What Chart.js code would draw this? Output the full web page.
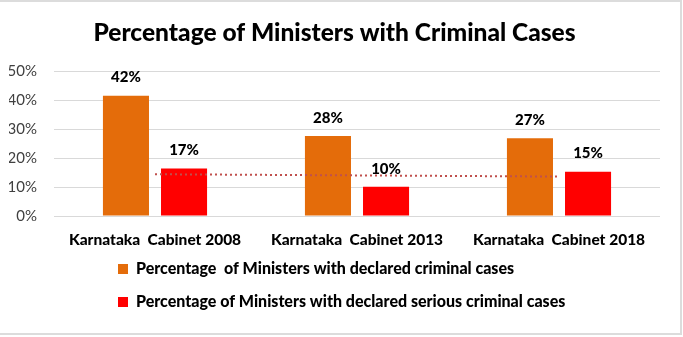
<!DOCTYPE html>
<html>
<head>
<meta charset="utf-8">
<script src="https://cdn.jsdelivr.net/npm/chart.js@4.4.1/dist/chart.umd.min.js"></script>
<style>
  html, body { margin: 0; padding: 0; background: #fff; }
  #wrap { position: relative; width: 683px; height: 337px; }
</style>
</head>
<body>
<div id="wrap"><canvas id="c" width="683" height="337"></canvas></div>
<script>
const categories = ["Karnataka  Cabinet 2008", "Karnataka  Cabinet 2013", "Karnataka  Cabinet 2018"];
const criminalCases = [41.5, 27.6, 26.8];
const seriousCases = [16.4, 10.1, 15.3];
const criminalLabels = ["42%", "28%", "27%"];
const seriousLabels = ["17%", "10%", "15%"];
const trendSerious = [14.4, 14.0, 13.6];
const seriesNames = ["Percentage  of Ministers with declared criminal cases", "Percentage of Ministers with declared serious criminal cases"];
const yTicks = [0, 10, 20, 30, 40, 50];

const FONT = "Lato, 'Open Sans', sans-serif";
const BOLD = '900';

const frame = {
  id: 'frame',
  beforeDraw(chart) {
    const ctx = chart.ctx;
    ctx.save();
    ctx.fillStyle = '#fff';
    ctx.fillRect(0, 0, chart.width, chart.height);
    ctx.strokeStyle = '#dcdcdc';
    ctx.lineWidth = 2;
    ctx.beginPath();
    ctx.moveTo(0, 1); ctx.lineTo(681, 1); ctx.lineTo(681, 334); ctx.lineTo(0, 334);
    ctx.stroke();
    ctx.restore();
  }
};

const legendShift = {
  id: 'legendShift',
  afterLayout(chart) {
    const l = chart.legend;
    const w = l.right - l.left;
    l.left = 101; l.right = 101 + w;
    l.top -= 20; l.bottom -= 20;
  }
};

const valueLabels = {
  id: 'valueLabels',
  afterDatasetsDraw(chart) {
    const ctx = chart.ctx;
    ctx.save();
    ctx.font = BOLD + " 15px " + FONT;
    ctx.fillStyle = '#000';
    ctx.textAlign = 'center';
    ctx.textBaseline = 'middle';
    const sets = [criminalLabels, seriousLabels];
    [0, 1].forEach(di => {
      const meta = chart.getDatasetMeta(di);
      meta.data.forEach((bar, i) => {
        ctx.fillText(sets[di][i], bar.x, bar.y - 18);
      });
    });
    ctx.restore();
  }
};

new Chart(document.getElementById('c'), {
  type: 'bar',
  data: {
    labels: categories,
    datasets: [
      { label: seriesNames[0], data: criminalCases, backgroundColor: '#E46C0A', order: 1,
        categoryPercentage: 0.575, barPercentage: 0.793 },
      { label: seriesNames[1], data: seriousCases, backgroundColor: '#FF0000', order: 1,
        categoryPercentage: 0.575, barPercentage: 0.793 },
      { type: 'line', label: 'trend', data: trendSerious, borderColor: '#C0504D', borderWidth: 2,
        borderDash: [2, 3], pointRadius: 0, fill: false, order: 0, tension: 0 }
    ]
  },
  options: {
    responsive: false,
    animation: false,
    devicePixelRatio: 1,
    layout: { padding: { left: 9, right: 23, top: 0, bottom: -3 } },
    plugins: {
      title: {
        display: true,
        text: 'Percentage of Ministers with Criminal Cases',
        color: '#000',
        font: { family: FONT, size: 24.5, weight: BOLD },
        padding: { top: 18, bottom: 23.6 }
      },
      legend: {
        position: 'bottom',
        align: 'start',
        labels: {
          filter: item => item.datasetIndex < 2,
          color: '#000',
          font: { family: FONT, size: 16, weight: BOLD },
          boxWidth: 10, boxHeight: 10,
          padding: 17
        }
      },
      tooltip: { enabled: false }
    },
    scales: {
      x: {
        grid: { display: false, drawTicks: false },
        border: { display: false },
        afterFit: axis => { axis.paddingLeft = 0; axis.paddingRight = 0; },
        ticks: { color: '#000', font: { family: FONT, size: 15.5, weight: BOLD }, padding: 14.7 }
      },
      y: {
        min: 0, max: 50,
        afterBuildTicks: axis => { axis.ticks = yTicks.map(v => ({ value: v })); },
        afterFit: axis => { axis.width = 45; },
        grid: { color: '#d9d9d9', drawTicks: false, lineWidth: 1 },
        border: { display: false },
        ticks: { color: '#404040', font: { family: FONT, size: 15 }, padding: 17,
          callback: v => v + '%' }
      }
    }
  },
  plugins: [frame, legendShift, valueLabels]
});
</script>
</body>
</html>
